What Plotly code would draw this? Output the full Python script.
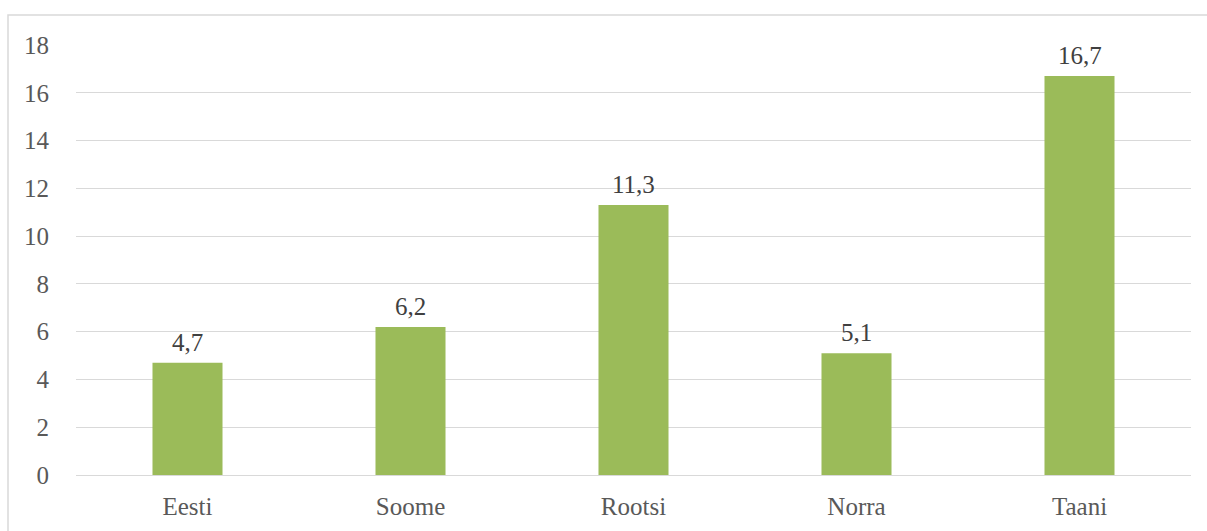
import plotly.graph_objects as go

countries = ["Eesti", "Soome", "Rootsi", "Norra", "Taani"]
values = [4.7, 6.2, 11.3, 5.1, 16.7]
value_labels = ["4,7", "6,2", "11,3", "5,1", "16,7"]
y_ticks = [0, 2, 4, 6, 8, 10, 12, 14, 16, 18]

W, H = 1207, 531
L, R, T, B = 76, 16, 45, 56
pw, ph = W - L - R, H - T - B
FONT = "Liberation Serif, Times New Roman, serif"
FS = 25

fig = go.Figure(go.Bar(
    x=countries, y=values,
    marker=dict(color="#9BBB59", line=dict(width=0)),
    width=0.314,
))

# value labels above each bar
for c, v, t in zip(countries, values, value_labels):
    fig.add_annotation(x=c, y=v, text=t, showarrow=False, yanchor="bottom",
                       yshift=5, font=dict(family=FONT, size=FS, color="#404040"))

fig.update_layout(
    width=W, height=H,
    margin=dict(l=L, r=R, t=T, b=B),
    paper_bgcolor="white", plot_bgcolor="white",
    font=dict(family=FONT, size=FS, color="#595959"),
    showlegend=False,
    xaxis=dict(showgrid=False, showline=False, ticks="", ticklabelstandoff=14,
               tickfont=dict(size=FS)),
    yaxis=dict(range=[0, 18], tickvals=y_ticks, showgrid=True,
               gridcolor="#D9D9D9", gridwidth=1, zeroline=True,
               zerolinecolor="#D9D9D9", zerolinewidth=1, ticks="",
               ticklabelstandoff=26, tickfont=dict(size=FS)),
    shapes=[dict(type="rect", xref="paper", yref="paper",
                 x0=(8 - L) / pw, x1=(W + 5 - L) / pw,
                 y0=-(H + 5 - T - ph) / ph, y1=1 + (T - 15) / ph,
                 line=dict(color="#D9D9D9", width=1.5), layer="below")],
)

fig.write_html("out.html")
